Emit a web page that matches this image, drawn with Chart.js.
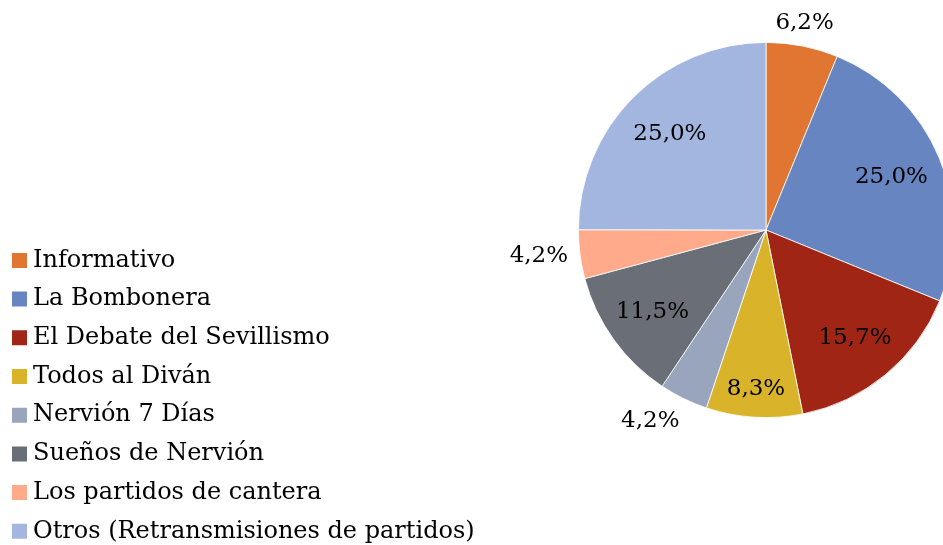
<!DOCTYPE html>
<html>
<head>
<meta charset="utf-8">
<script src="https://cdn.jsdelivr.net/npm/chart.js@4.4.0/dist/chart.umd.min.js"></script>
<style>
  html, body { margin: 0; padding: 0; background: #fff; overflow: hidden; }
  #wrap { width: 943px; height: 545px; position: relative; }
</style>
</head>
<body>
<div id="wrap"><canvas id="chart"></canvas></div>
<script>
const categories = [
  'Informativo',
  'La Bombonera',
  'El Debate del Sevillismo',
  'Todos al Diván',
  'Nervión 7 Días',
  'Sueños de Nervión',
  'Los partidos de cantera',
  'Otros (Retransmisiones de partidos)',
];
const shares = [6.2, 25.0, 15.7, 8.3, 4.2, 11.5, 4.2, 25.0];
const colors = ['#E07631', '#6785C0', '#A02514', '#D9B42A', '#98A5BD', '#6A6E76', '#FFAA8A', '#A3B6E0'];

// pie placement (centre and radius in canvas pixels)
const PIE = { cx: 766, cy: 230, r: 188 };
const FONT = '"DejaVu Serif", serif';
const LABEL_SIZE = 23;
// how far out (share of the radius) each inside label sits; the narrow yellow one goes further out
const labelRadius = [1, 0.725, 0.745, 0.85, 1, 0.745, 1, 0.725];

// put the pie where the reference has it, whatever width the legend takes
const pieArea = {
  id: 'pieArea',
  afterLayout(chart) {
    chart.chartArea = {
      left: PIE.cx - PIE.r,
      right: PIE.cx + PIE.r,
      top: PIE.cy - PIE.r,
      bottom: PIE.cy + PIE.r,
      width: PIE.r * 2,
      height: PIE.r * 2,
    };
  },
};

const ease = (t) => Math.sign(t) * Math.min(1, Math.max(0, (Math.abs(t) - 0.2) / 0.25));

// percentage labels: big slices inside, small ones just outside the rim
const sliceLabels = {
  id: 'sliceLabels',
  afterDatasetsDraw(chart) {
    const { ctx } = chart;
    const meta = chart.getDatasetMeta(0);
    ctx.save();
    ctx.font = LABEL_SIZE + 'px ' + FONT;
    ctx.fillStyle = '#000';
    ctx.textAlign = 'center';
    ctx.textBaseline = 'middle';
    meta.data.forEach((arc, i) => {
      const { x, y, startAngle, endAngle, outerRadius } = arc.getProps(['x', 'y', 'startAngle', 'endAngle', 'outerRadius'], true);
      const mid = (startAngle + endAngle) / 2;
      const dx = Math.cos(mid);
      const dy = Math.sin(mid);
      const text = shares[i].toFixed(1).replace('.', ',') + '%';
      let lx;
      let ly;
      if (shares[i] >= 7) {
        lx = x + dx * outerRadius * labelRadius[i];
        ly = y + dy * outerRadius * labelRadius[i];
      } else {
        const w = ctx.measureText(text).width;
        const h = LABEL_SIZE;
        lx = x + dx * (outerRadius + 12) + ease(dx) * w / 2;
        ly = y + dy * (outerRadius + 12) + ease(dy) * h / 2;
      }
      ctx.fillText(text, lx, ly);
    });
    ctx.restore();
  },
};

// legend squares: a tiny box with a thick stroke of the same colour, so the text sits close to it
const legendLabels = (chart) => Chart.overrides.pie.plugins.legend.labels.generateLabels(chart)
  .map((item) => ({ ...item, strokeStyle: item.fillStyle, lineWidth: 12 }));

new Chart(document.getElementById('chart'), {
  type: 'pie',
  data: {
    labels: categories,
    datasets: [{
      data: shares,
      backgroundColor: colors,
      borderColor: '#ffffff',
      borderWidth: 0.8,
    }],
  },
  options: {
    responsive: true,
    maintainAspectRatio: false,
    animation: false,
    layout: { padding: { left: 3.3, bottom: -13 } },
    plugins: {
      tooltip: { enabled: false },
      legend: {
        position: 'left',
        align: 'end',
        labels: {
          boxWidth: 3,
          boxHeight: 3,
          padding: 14.7,
          color: '#000',
          font: { family: FONT, size: 24 },
          generateLabels: legendLabels,
        },
      },
    },
  },
  plugins: [pieArea, sliceLabels],
});
</script>
</body>
</html>
